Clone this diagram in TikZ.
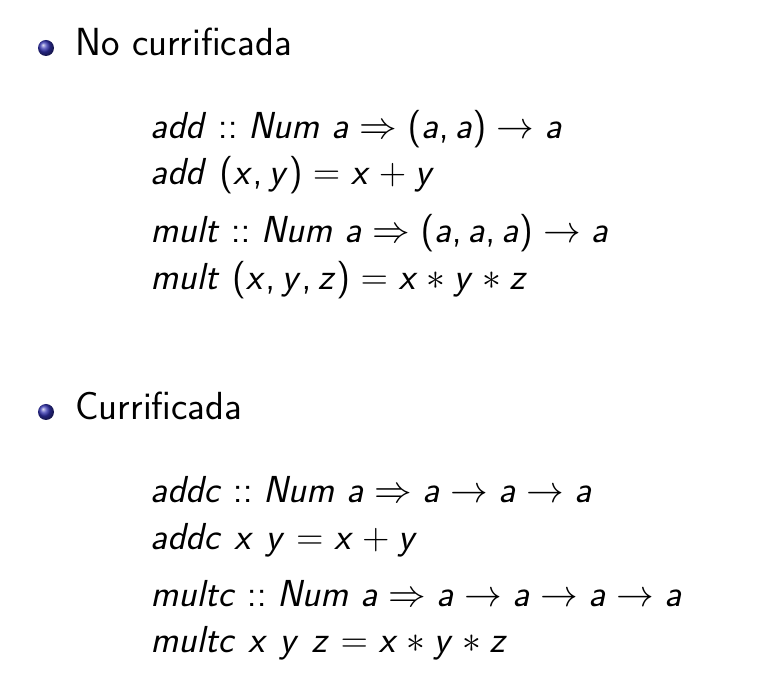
\RequirePackage{fix-cm}
\documentclass[tikz,border=0pt]{standalone}
\definecolor{ballblue}{RGB}{51,51,178}
% sans serif math, slide style
\SetSymbolFont{letters}{normal}{OT1}{cmss}{m}{sl}
\SetSymbolFont{operators}{normal}{OT1}{cmss}{m}{n}
\DeclareMathSymbol{,}{\mathpunct}{operators}{"2C}
\begin{document}
\begin{tikzpicture}[x=.5pt,y=-.5pt,
    bul/.style={circle,inner sep=0pt,minimum size=8pt,ball color=ballblue},
    hdr/.style={anchor=base west,inner sep=0pt,font=\fontsize{19.6}{24}\sffamily},
    code/.style={anchor=base west,inner sep=0pt,font=\fontsize{18.8}{23}\sffamily}]
  \useasboundingbox (0,0) rectangle (771,699);
  \node[bul] (b1) at (46,48) {};
  \node[hdr] (nc) at (75,56) {No currificada};
  \node[code] (add) at (150,139) {$add :: Num\ a \Rightarrow (a, a) \to a$};
  \node[code] (adddef) at (150,185) {$add\ (x, y) = x + y$};
  \node[code] (mult) at (150,243) {$mult :: Num\ a \Rightarrow (a, a, a) \to a$};
  \node[code] (multdef) at (150,290) {$mult\ (x, y, z) = x * y * z$};
  \node[bul] (b2) at (46,412) {};
  \node[hdr] (cu) at (75,420) {Currificada};
  \node[code] (addc) at (150,503) {$addc :: Num\ a \Rightarrow a \to a \to a$};
  \node[code] (addcdef) at (150,550) {$addc\ x\ y = x + y$};
  \node[code] (multc) at (150,607) {$multc :: Num\ a \Rightarrow a \to a \to a \to a$};
  \node[code] (multcdef) at (150,653) {$multc\ x\ y\ z = x * y * z$};
\end{tikzpicture}
\end{document}
